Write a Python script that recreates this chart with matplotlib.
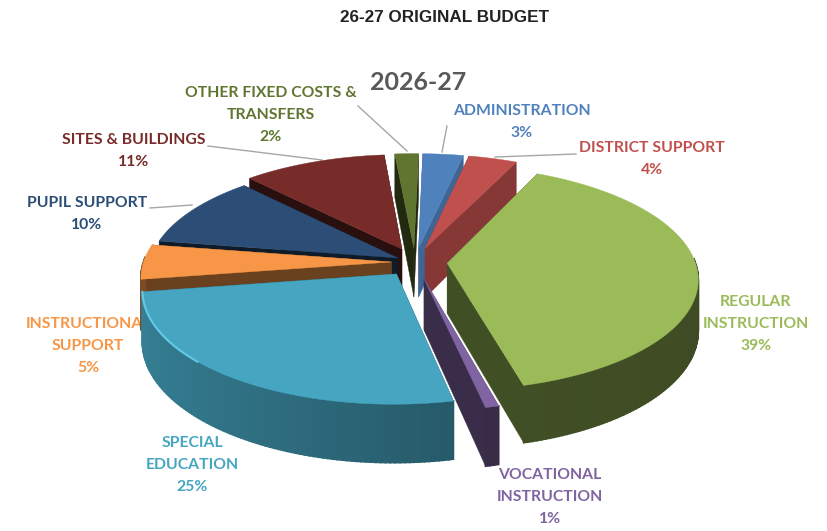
import numpy as np
import matplotlib
matplotlib.use('Agg')
import matplotlib.pyplot as plt
from matplotlib.colors import to_rgb

names = ["ADMINISTRATION", "DISTRICT SUPPORT", "REGULAR\nINSTRUCTION", "VOCATIONAL\nINSTRUCTION",
         "SPECIAL\nEDUCATION", "INSTRUCTIONAL\nSUPPORT", "PUPIL SUPPORT", "SITES & BUILDINGS",
         "OTHER FIXED COSTS &\nTRANSFERS"]
# printed percentages, and the shares as the slices actually look in the picture
percents = [3, 4, 39, 1, 25, 5, 10, 11, 2]
shares = [3.0, 3.6, 39.0, 0.75, 25.85, 5.0, 10.4, 10.65, 1.75]
colors = ["#4F81BD", "#C0504D", "#9BBB59", "#8064A2", "#46A6C2", "#F79646", "#2C4D75", "#772C2A", "#5F7530"]
cut_dark = [0.78, 0.7, 0.42, 0.45, 0.45, 0.43, 0.35, 0.35, 0.35]
wall_gain = [0.15, 0.15, 0.06, 0.1, 0.36, 0.1, 0.15, 0.15, 0.15]
explode = [0.13, 0.13, 0.13, 0.155, 0.13, 0.095, 0.08, 0.13, 0.13]
label_xy = [(522, 122), (652, 159), (756, 324), (550, 497), (192, 465), (88, 346), (87, 214), (134, 151), (271, 115)]
leaders = [((447, 126), (442, 152)), ((576, 154), (495, 157)), None, None, None, None,
           ((150, 208), (192, 205)), ((208, 146), (322, 160)), ((358, 106), (407, 151))]

# paint order, back of the pie first
order = [8, 0, 7, 1, 6, 5, 2, 4, 3]

cx, cy = 415, 262
rx, ry = 248, 110
k = 0.13
depth = 50
start = np.radians(1.2)


def proj(x, y, drop=0.0):
    s = 1 / (1 + k * y)
    return cx + rx * x * s, cy - ry * y * s + drop * s


def shade(col, f):
    return tuple(min(1, c * f) for c in to_rgb(col))


fig = plt.figure(figsize=(8.28, 5.31), dpi=100)
ax = fig.add_axes([0, 0, 1, 1])
ax.set_xlim(0, 828)
ax.set_ylim(531, 0)
ax.axis("off")

edges = start + np.cumsum([0] + shares) / sum(shares) * 2 * np.pi

for i in order:
    a0, a1 = edges[i], edges[i + 1]
    mid = (a0 + a1) / 2
    ox, oy = explode[i] * np.sin(mid), explode[i] * np.cos(mid)
    t = np.linspace(a0, a1, max(int((a1 - a0) * 60), 4))
    xs = ox + np.sin(t)
    ys = oy + np.cos(t)
    z = 3 + order.index(i) * 0.1

    # cut faces
    for a in (a0, a1):
        px, py = ox + np.sin(a), oy + np.cos(a)
        face = [proj(ox, oy), proj(px, py), proj(px, py, depth), proj(ox, oy, depth)]
        ax.fill(*zip(*face), color=shade(colors[i], cut_dark[i]), lw=0.3, zorder=z)

    # outer wall, only the part facing the viewer
    for j in range(len(t) - 1):
        if np.cos((t[j] + t[j + 1]) / 2) > 0.05:
            continue
        f = 0.40 + wall_gain[i] * (-np.sin((t[j] + t[j + 1]) / 2) + 1) / 2
        face = [proj(xs[j], ys[j]), proj(xs[j + 1], ys[j + 1]),
                proj(xs[j + 1], ys[j + 1], depth), proj(xs[j], ys[j], depth)]
        ax.fill(*zip(*face), color=shade(colors[i], f), lw=1.2, zorder=z + 0.01)

    # top
    top = [proj(ox, oy)] + [proj(a, b) for a, b in zip(xs, ys)]
    ax.fill(*zip(*top), color=colors[i], lw=0.3, zorder=z + 0.02)

    # light rim on the left of the special education slice
    if names[i].startswith("SPECIAL"):
        keep = t > np.radians(225)
        rim = [proj(a, b) for a, b in zip(xs[keep], ys[keep])]
        ax.plot(*zip(*rim), color="#62C8E2", lw=1.6, zorder=z + 0.03, solid_capstyle="round")

for i in range(len(names)):
    ax.text(label_xy[i][0], label_xy[i][1], f"{names[i]}\n{percents[i]}%", color=colors[i], ha="center", va="center",
            family="Lato", weight="bold", fontsize=11.3, linespacing=1.72, zorder=2)
    if leaders[i]:
        ax.plot(*zip(*leaders[i]), color="#a6a6a6", lw=1, zorder=2)

ax.text(445, 17, "26-27 ORIGINAL BUDGET", ha="center", va="center", family="Liberation Sans",
        weight="bold", fontsize=12.3, color="#222222")
ax.text(418, 82, "2026-27", ha="center", va="center", family="Lato", weight="bold", fontsize=18, color="#595959")

fig.savefig("out.png", dpi=100)
